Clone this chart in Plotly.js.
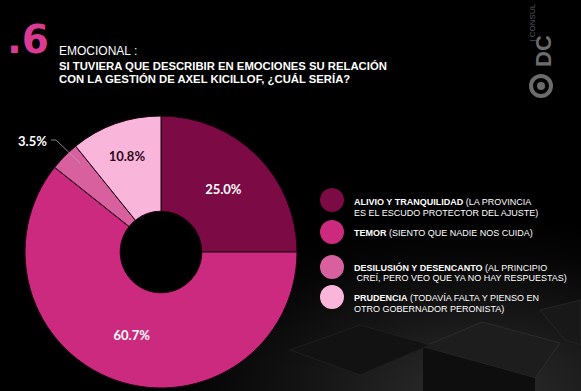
<!DOCTYPE html>
<html><head><meta charset="utf-8">
<script src="https://cdn.plot.ly/plotly-3.0.1.min.js"></script>
<style>
html,body{margin:0;padding:0;background:#000;}
#chart{width:581px;height:391px;background:radial-gradient(ellipse 60% 45% at 82% 100%, #2e2e2e 0%, #161616 45%, #050505 80%, #000 100%);}
</style></head>
<body><div id="chart"></div>
<script>
const categories = ["ALIVIO Y TRANQUILIDAD","TEMOR","DESILUSIÓN Y DESENCANTO","PRUDENCIA"];
const details = ["(LA PROVINCIA|ES EL ESCUDO PROTECTOR DEL AJUSTE)","(SIENTO QUE NADIE NOS CUIDA)","(AL PRINCIPIO| CREÍ, PERO VEO QUE YA NO HAY RESPUESTAS)","(TODAVÍA FALTA Y PIENSO EN|OTRO GOBERNADOR PERONISTA)"];
const values = [25.0, 60.7, 3.5, 10.8];
const colors = ["#7b0a45","#cc2a7e","#d9609f","#fab5da"];
const textColors = ["#ffffff","#ffffff","#ffffff","#2a0a18"];

const W=581,H=391;
const cx=161, cy=252, R=136;
const px = x => x/W, py = y => 1-y/H;

const trace = {
  type:'pie', values:values, labels:categories, sort:false, direction:'clockwise', rotation:0,
  hole:0.30,
  marker:{colors:colors, line:{color:'#1a0010', width:1}},
  texttemplate:'%{value:.1f}%',
  textposition:['inside','inside','none','inside'],
  insidetextorientation:'horizontal',
  textfont:{family:'Lato, Open Sans, sans-serif', size:13, color:textColors, weight:'bold'},
  hoverinfo:'none', showlegend:false,
  domain:{x:[px(cx-R),px(cx+R)], y:[py(cy+R),py(cy-R)]}
};

const annotations = [
  {x:px(5), y:py(40), xref:'paper', yref:'paper', xanchor:'left', yanchor:'middle', showarrow:false,
   text:'<b>.6</b>', font:{family:'DejaVu Sans, Liberation Sans, sans-serif', size:39, color:'#d93a92'}},
  {x:px(57), y:py(51), xref:'paper', yref:'paper', xanchor:'left', yanchor:'middle', showarrow:false,
   text:'EMOCIONAL :', font:{family:'Liberation Sans, Arial, sans-serif', size:12, color:'#ffffff'}},
  {x:px(57), y:py(65.5), xref:'paper', yref:'paper', xanchor:'left', yanchor:'middle', showarrow:false,
   text:'<b>SI TUVIERA QUE DESCRIBIR EN EMOCIONES SU RELACIÓN</b>',
   font:{family:'Liberation Sans, Arial, sans-serif', size:11.3, color:'#ffffff'}},
  {x:px(57), y:py(79.5), xref:'paper', yref:'paper', xanchor:'left', yanchor:'middle', showarrow:false,
   text:'<b>CON LA GESTIÓN DE AXEL KICILLOF, ¿CUÁL SERÍA?</b>',
   font:{family:'Liberation Sans, Arial, sans-serif', size:11.3, color:'#ffffff'}},
  // logo
  {x:px(543), y:py(69), xref:'paper', yref:'paper', xanchor:'center', yanchor:'bottom', showarrow:false, textangle:-90,
   text:'<b>DC</b>', font:{family:'Liberation Sans Narrow, Liberation Sans, sans-serif', size:22, color:'#6c6c6c'}},
  {x:px(532.5), y:py(44), xref:'paper', yref:'paper', xanchor:'center', yanchor:'bottom', showarrow:false, textangle:-90,
   text:'| CONSUL', font:{family:'Liberation Sans, Arial, sans-serif', size:8, color:'#5a5a5a'}},
  // 3.5% outside label
  {x:px(49), y:py(141), xref:'paper', yref:'paper', xanchor:'right', yanchor:'middle', showarrow:false,
   text:'<b>'+values[2].toFixed(1)+'%</b>', font:{family:'Lato, Open Sans, sans-serif', size:13, color:'#ffffff'}}
];

const shapes = [
  // background cubes (decor)
  {type:'path', xref:'paper', yref:'paper', layer:'below', path:`M ${px(423)} ${py(347)} L ${px(482)} ${py(322)} L ${px(560)} ${py(343)} L ${px(535)} ${py(378)} Z`, fillcolor:'#1d1d1d', line:{color:'#2c2c2c', width:1}},
  {type:'path', xref:'paper', yref:'paper', layer:'below', path:`M ${px(423)} ${py(347)} L ${px(535)} ${py(378)} L ${px(535)} ${py(391)} L ${px(423)} ${py(391)} Z`, fillcolor:'#0e0e0e', line:{width:0}},
  {type:'path', xref:'paper', yref:'paper', layer:'below', path:`M ${px(290)} ${py(350)} L ${px(360)} ${py(325)} L ${px(430)} ${py(345)} L ${px(360)} ${py(375)} Z`, fillcolor:'#121212', line:{color:'#1f1f1f', width:1}},
  {type:'path', xref:'paper', yref:'paper', layer:'below', path:`M ${px(540)} ${py(310)} L ${px(581)} ${py(300)} L ${px(581)} ${py(345)} L ${px(565)} ${py(340)} Z`, fillcolor:'#181818', line:{color:'#262626', width:1}},
  // logo ring
  {type:'circle', xref:'paper', yref:'paper', x0:px(531), x1:px(551), y0:py(96), y1:py(76), line:{color:'#6c6c6c', width:4}},
  {type:'circle', xref:'paper', yref:'paper', x0:px(537), x1:px(545), y0:py(90), y1:py(82), fillcolor:'#6c6c6c', line:{width:0}},
  // leader line for 3.5%
  {type:'path', xref:'paper', yref:'paper', path:`M ${px(51)} ${py(140)} L ${px(56)} ${py(140)} L ${px(80)} ${py(163)}`, line:{color:'#aaaaaa', width:0.8}}
];

const circleY = [200, 232, 267, 297];
const lineY = [[202, 212.5], [233], [267, 277.5], [298, 308.5]];
for (let i=0;i<categories.length;i++){
  shapes.push({type:'circle', xref:'paper', yref:'paper', x0:px(320), x1:px(344), y0:py(circleY[i]+12), y1:py(circleY[i]-12), fillcolor:colors[i], line:{width:0}});
  const parts = details[i].split('|');
  parts.forEach((p, j) => {
    const t = (j===0 ? '<b>'+categories[i]+'</b> ' : '') + p;
    annotations.push({x:px(352), y:py(lineY[i][j]), xref:'paper', yref:'paper', xanchor:'left', yanchor:'middle', showarrow:false,
      text:t, font:{family:'Liberation Sans, Arial, sans-serif', size:9.0, color:'#ffffff'}});
  });
}

Plotly.newPlot('chart',[trace],{
  width:W, height:H, margin:{l:0,r:0,t:0,b:0},
  paper_bgcolor:'rgba(0,0,0,0)', plot_bgcolor:'rgba(0,0,0,0)',
  annotations:annotations, shapes:shapes, showlegend:false
},{staticPlot:true});
</script></body></html>
